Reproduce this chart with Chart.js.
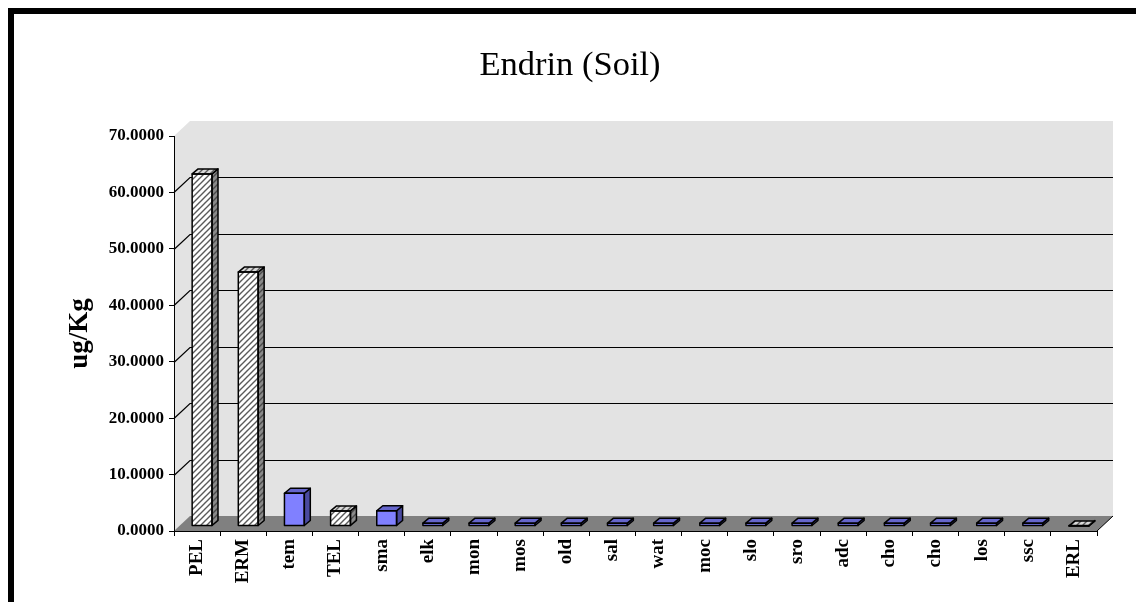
<!DOCTYPE html>
<html lang="en">
<head>
<meta charset="UTF-8" />
<title>Endrin (Soil)</title>
<script src="https://cdn.jsdelivr.net/npm/chart.js"></script>
<style>
  html, body { margin: 0; padding: 0; background: #fff; }
  .chart-wrap { position: relative; width: 1136px; height: 602px; }
  .frame {
    position: absolute; left: 8px; top: 8px; right: 0; bottom: 0;
    border-top: 6px solid #000; border-left: 6px solid #000;
    pointer-events: none;
  }
</style>
</head>
<body>
<div class="chart-wrap">
  <canvas id="chart"></canvas>
  <div class="frame"></div>
</div>
<script>
const categories = ["PEL", "ERM", "tem", "TEL", "sma", "elk", "mon", "mos", "old", "sal",
                    "wat", "moc", "slo", "sro", "adc", "cho", "cho", "los", "ssc", "ERL"];
const values = [62.4, 45.0, 5.8, 2.67, 2.7, 0.5, 0.5, 0.5, 0.5, 0.5,
                0.5, 0.5, 0.5, 0.5, 0.5, 0.5, 0.5, 0.5, 0.5, 0.02];
const guidelines = ["PEL", "ERM", "TEL", "ERL"];
const yTicks = [0, 10, 20, 30, 40, 50, 60, 70];

const SERIF = "'Liberation Serif', 'Times New Roman', serif";

// 3d look: back wall offset, and how far into the box the bars sit
const WALL_DX = 16, WALL_DY = 15;
const BAR_DX = 5, BAR_DY = 5;
const DEPTH_X = 6, DEPTH_Y = 5;

function hatch(bg, fg) {
  const c = document.createElement("canvas");
  c.width = c.height = 6;
  const g = c.getContext("2d");
  g.fillStyle = bg;
  g.fillRect(0, 0, 6, 6);
  g.strokeStyle = fg;
  g.lineWidth = 1.4;
  g.beginPath();
  g.moveTo(0, 6); g.lineTo(6, 0);
  g.moveTo(-3, 3); g.lineTo(3, -3);
  g.moveTo(3, 9); g.lineTo(9, 3);
  g.stroke();
  return g.createPattern(c, "repeat");
}

const frontHatch = hatch("#ffffff", "#5a5a5a");
const topHatch = hatch("#d8d8d8", "#5a5a5a");
const sideHatch = hatch("#8a8a8a", "#4a4a4a");

const isGuide = (i) => guidelines.includes(categories[i]);

const box3d = {
  id: "box3d",
  beforeDraw(chart) {
    const { ctx, chartArea: a, scales: { y } } = chart;
    ctx.save();
    // walls
    ctx.fillStyle = "#e3e3e3";
    ctx.beginPath();
    ctx.moveTo(a.left, a.bottom);
    ctx.lineTo(a.left, a.top);
    ctx.lineTo(a.left + WALL_DX, a.top - WALL_DY);
    ctx.lineTo(a.right + WALL_DX, a.top - WALL_DY);
    ctx.lineTo(a.right + WALL_DX, a.bottom - WALL_DY);
    ctx.lineTo(a.right, a.bottom);
    ctx.closePath();
    ctx.fill();
    // floor
    ctx.fillStyle = "#808080";
    ctx.beginPath();
    ctx.moveTo(a.left, a.bottom);
    ctx.lineTo(a.left + WALL_DX, a.bottom - WALL_DY);
    ctx.lineTo(a.right + WALL_DX, a.bottom - WALL_DY);
    ctx.lineTo(a.right, a.bottom);
    ctx.closePath();
    ctx.fill();
    ctx.strokeStyle = "#000";
    ctx.lineWidth = 1;
    ctx.beginPath();
    ctx.moveTo(a.right, a.bottom);
    ctx.lineTo(a.right + WALL_DX, a.bottom - WALL_DY);
    ctx.stroke();
    // gridlines on the back wall
    ctx.lineWidth = 1.2;
    yTicks.forEach((v) => {
      if (v === 0 || v === yTicks[yTicks.length - 1]) return;
      const py = Math.round(y.getPixelForValue(v)) + 0.5;
      ctx.beginPath();
      ctx.moveTo(a.left, py);
      ctx.lineTo(a.left + WALL_DX, py - WALL_DY);
      ctx.lineTo(a.right + WALL_DX, py - WALL_DY);
      ctx.stroke();
    });
    ctx.restore();
  },
  beforeDatasetsDraw(chart) {
    chart.ctx.save();
    chart.ctx.translate(BAR_DX, -BAR_DY);
  },
  afterDatasetsDraw(chart) {
    const ctx = chart.ctx;
    const meta = chart.getDatasetMeta(0);
    ctx.strokeStyle = "#000";
    ctx.lineWidth = 1.5;
    ctx.lineJoin = "round";
    meta.data.forEach((bar, i) => {
      const { x, y, base, width } = bar.getProps(["x", "y", "base", "width"], true);
      const l = x - width / 2, r = x + width / 2;
      const g = isGuide(i);
      // side face
      ctx.beginPath();
      ctx.moveTo(r, y);
      ctx.lineTo(r + DEPTH_X, y - DEPTH_Y);
      ctx.lineTo(r + DEPTH_X, base - DEPTH_Y);
      ctx.lineTo(r, base);
      ctx.closePath();
      ctx.fillStyle = g ? sideHatch : "#4a4aa0";
      ctx.fill();
      ctx.stroke();
      // top face
      ctx.beginPath();
      ctx.moveTo(l, y);
      ctx.lineTo(l + DEPTH_X, y - DEPTH_Y);
      ctx.lineTo(r + DEPTH_X, y - DEPTH_Y);
      ctx.lineTo(r, y);
      ctx.closePath();
      ctx.fillStyle = g ? topHatch : "#6666cc";
      ctx.fill();
      ctx.stroke();
      // front outline
      ctx.strokeRect(l, y, width, base - y);
    });
    ctx.restore();
  },
};

new Chart(document.getElementById("chart"), {
  type: "bar",
  data: {
    labels: categories,
    datasets: [{
      data: values,
      backgroundColor: values.map((v, i) => (isGuide(i) ? frontHatch : "#8080ff")),
      borderWidth: 0,
      barPercentage: 0.43,
      categoryPercentage: 1,
      clip: false,
    }],
  },
  options: {
    responsive: true,
    maintainAspectRatio: false,
    animation: false,
    events: [],
    layout: { padding: { left: 43, top: 14, right: 39, bottom: 0 } },
    plugins: {
      legend: { display: false },
      tooltip: { enabled: false },
      title: {
        display: true,
        text: "Endrin (Soil)",
        color: "#000",
        font: { family: SERIF, size: 34.5, weight: "normal" },
        padding: { top: 31, bottom: 49.6 },
      },
    },
    scales: {
      x: {
        afterFit: (s) => { s.height = 71; },
        grid: { drawOnChartArea: false, tickLength: 5, color: "#000", offset: true },
        border: { display: true, color: "#000", width: 1 },
        ticks: {
          autoSkip: false,
          minRotation: 90,
          maxRotation: 90,
          padding: 3,
          color: "#000",
          font: { family: SERIF, size: 19, weight: "bold" },
        },
      },
      y: {
        min: 0,
        max: 70,
        afterFit: (s) => { s.width = 131; },
        afterBuildTicks: (s) => { s.ticks = yTicks.map((v) => ({ value: v })); },
        grid: { drawOnChartArea: false, tickLength: 5, color: "#000" },
        border: { display: true, color: "#000", width: 1 },
        ticks: {
          padding: 5,
          color: "#000",
          font: { family: SERIF, size: 17, weight: "bold" },
          callback: (v) => v.toFixed(4),
        },
        title: {
          display: true,
          text: "ug/Kg",
          color: "#000",
          font: { family: SERIF, size: 27, weight: "bold" },
          padding: { top: 21, bottom: 0 },
        },
      },
    },
  },
  plugins: [box3d],
});
</script>
</body>
</html>
